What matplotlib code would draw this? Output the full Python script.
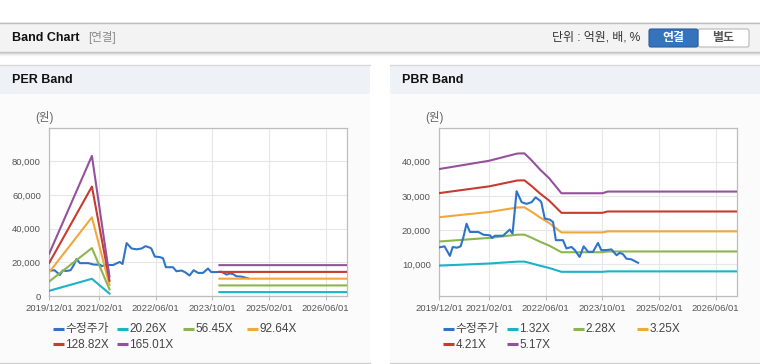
import numpy as np
import pandas as pd
import matplotlib
matplotlib.use("Agg")
import matplotlib.pyplot as plt
from matplotlib.patches import Rectangle, FancyBboxPatch

plt.rcParams['font.family'] = ['Liberation Sans', 'Noto Sans CJK KR']

# --- DATA ---
price_dates = ['2019-12-01', '2020-01-15', '2020-03-01', '2020-03-25', '2020-05-01', '2020-06-01',
               '2020-06-25', '2020-07-22', '2020-08-20', '2020-11-01', '2020-12-13', '2021-02-10',
               '2021-02-25', '2021-03-22', '2021-06-01', '2021-07-28', '2021-08-21', '2021-09-25',
               '2021-11-07', '2021-12-19', '2022-02-01', '2022-03-07', '2022-04-12', '2022-04-25',
               '2022-05-25', '2022-07-07', '2022-08-04', '2022-08-28', '2022-10-28', '2022-11-27',
               '2023-01-10', '2023-02-07', '2023-03-20', '2023-04-24', '2023-06-01', '2023-07-13',
               '2023-08-25', '2023-09-22', '2023-11-06', '2023-12-18', '2024-02-01', '2024-02-28',
               '2024-03-27', '2024-04-25', '2024-06-07', '2024-08-03']
price = [15000, 15300, 12500, 15100, 14900, 15300, 18000, 21900, 19500, 19500, 18700, 18500,
         17700, 18400, 18400, 20200, 19000, 31400, 28200, 27700, 28200, 29600, 28700, 28200,
         23400, 23100, 22400, 17100, 17100, 14700, 15100, 14200, 12200, 15300, 13700, 13700,
         16300, 14200, 14200, 14400, 12700, 13400, 13000, 11700, 11500, 10500]

per_dates = ['2019-12-01', '2020-12-01', '2021-05-01', '2022-08-01', '2023-12-01', '2026-12-01']
per_labels = ['20.26X', '56.45X', '92.64X', '128.82X', '165.01X']
per_20 = [3100, 10210, 1420, np.nan, 2300, 2300]
per_56 = [8640, 28450, 3950, np.nan, 6270, 6270]
per_92 = [14170, 46690, 6480, np.nan, 10280, 10280]
per_128 = [19710, 64930, 9020, np.nan, 14300, 14300]
per_165 = [25250, 83170, 11550, np.nan, 18320, 18320]

pbr_dates = ['2019-12-01', '2021-02-01', '2021-10-01', '2021-12-01', '2022-02-01', '2022-04-15',
             '2022-07-01', '2022-10-15', '2023-10-01', '2023-11-15', '2026-12-01']
pbr_labels = ['1.32X', '2.28X', '3.25X', '4.21X', '5.17X']
pbr_132 = [9670, 10290, 10830, 10840, 10310, 9630, 8990, 7860, 7860, 7990, 7990]
pbr_228 = [16710, 17770, 18700, 18720, 17820, 16630, 15530, 13580, 13580, 13800, 13800]
pbr_325 = [23810, 25330, 26650, 26690, 25400, 23700, 22130, 19360, 19360, 19670, 19670]
pbr_421 = [30850, 32810, 34530, 34570, 32900, 30700, 28670, 25080, 25080, 25480, 25480]
pbr_517 = [37880, 40290, 42400, 42450, 40400, 37700, 35200, 30800, 30800, 31290, 31290]

xtick_dates = ['2019-12-01', '2021-02-01', '2022-06-01', '2023-10-01', '2025-02-01', '2026-06-01']

price_color = '#2f74c8'
band_colors = ['#1bb3c6', '#8cb54e', '#f2a73b', '#c93a2f', '#94529c']

W, H = 760, 364
fig = plt.figure(figsize=(W / 100, H / 100), dpi=100)
fig.patch.set_facecolor('white')

# background / chrome drawn in pixel coordinates
bg = fig.add_axes([0, 0, 1, 1], zorder=0)
bg.set_xlim(0, W)
bg.set_ylim(H, 0)
bg.axis('off')

# header bar
bg.add_patch(Rectangle((0, 22), W, 30, facecolor='#f3f3f3', edgecolor='none'))
bg.plot([0, W], [22.5, 22.5], color='#bdbdbd', lw=1)
bg.plot([0, W], [52, 52], color='#c8c8c8', lw=1)
for i, a in enumerate([0.18, 0.10, 0.05]):
    bg.plot([0, W], [53 + i, 53 + i], color='black', alpha=a * 0.6, lw=1)
bg.text(12, 38, 'Band Chart', fontsize=9, fontweight='bold', color='#111111', va='center')
bg.text(88, 38, '[연결]', fontsize=8.3, color='#8a8a8a', va='center')
bg.text(552, 38, '단위 : 억원, 배, %', fontsize=8.6, color='#333333', va='center')
bg.add_patch(FancyBboxPatch((698, 29), 51, 18, boxstyle='round,pad=0,rounding_size=2',
                            facecolor='white', edgecolor='#b8b8b8', lw=0.8))
bg.add_patch(FancyBboxPatch((649, 29), 49, 18, boxstyle='round,pad=0,rounding_size=2',
                            facecolor='#3574bd', edgecolor='#2a60a0', lw=0.8))
bg.text(673.5, 38.5, '연결', fontsize=8.6, fontweight='bold', color='white', ha='center', va='center')
bg.text(723.5, 38.5, '별도', fontsize=8.6, fontweight='bold', color='#555555', ha='center', va='center')

# panels
for x0, title in [(0, 'PER Band'), (390, 'PBR Band')]:
    bg.add_patch(Rectangle((x0, 94), 370, 269, facecolor='#fbfbfb', edgecolor='none'))
    bg.add_patch(Rectangle((x0, 64.5), 370, 29, facecolor='#eef2f7', edgecolor='none'))
    bg.plot([x0, x0 + 370], [64.5, 64.5], color='#d8d8d8', lw=1)
    bg.plot([x0, x0 + 370], [363, 363], color='#cfcfcf', lw=1)
    bg.text(x0 + 12, 80, title, fontsize=9, fontweight='bold', color='#111111', va='center')
    bg.text(x0 + 35, 118, '(원)', fontsize=8.3, color='#666666', va='center')


def legend_row(x0, y, items):
    xs = [x0 + 52.7, x0 + 117, x0 + 182.7, x0 + 247]
    for (lab, col), xx in zip(items, xs):
        bg.plot([xx, xx + 11], [y, y], color=col, lw=2.2, solid_capstyle='butt')
        bg.text(xx + 12.5, y + 0.5, lab, fontsize=8.5, color='#444444', va='center')


def setup_axes(ax, ylim, yticks):
    ax.set_facecolor('white')
    ax.set_xlim(pd.Timestamp('2019-12-01'), pd.Timestamp('2026-12-01'))
    ax.set_ylim(*ylim)
    xt = pd.to_datetime(xtick_dates)
    ax.set_xticks(xt)
    ax.set_xticklabels([d.strftime('%Y/%m/%d') for d in xt])
    ax.set_yticks(yticks)
    ax.set_yticklabels([f'{v:,}' for v in yticks])
    ax.grid(True, color='#e6e6e6', lw=0.8)
    ax.set_axisbelow(True)
    for s in ax.spines.values():
        s.set_color('#bdbdbd')
        s.set_linewidth(0.9)
    ax.tick_params(axis='x', length=3, color='#bdbdbd', labelsize=6.8, labelcolor='#555555', pad=3)
    ax.tick_params(axis='y', length=0, labelsize=6.8, labelcolor='#555555', pad=6)


ax_w = 297.7 / W
ax_h = 168.5 / H
ax_b = (H - 296) / H

# PER panel
ax1 = fig.add_axes([49.3 / W, ax_b, ax_w, ax_h], zorder=2)
setup_axes(ax1, (0, 100000), [0, 20000, 40000, 60000, 80000])
pd_per = pd.to_datetime(per_dates)
ax1.plot(pd.to_datetime(price_dates), price, color=price_color, lw=1.5, zorder=3)
for vals, col in zip([per_20, per_56, per_92, per_128, per_165], band_colors):
    ax1.plot(pd_per, vals, color=col, lw=1.5, zorder=4)
legend_row(0, 328.5, [('수정주가', price_color)] + list(zip(per_labels[:3], band_colors[:3])))
legend_row(0, 344, list(zip(per_labels[3:], band_colors[3:])))

# PBR panel
ax2 = fig.add_axes([439.3 / W, ax_b, ax_w, ax_h], zorder=2)
setup_axes(ax2, (800, 50000), [10000, 20000, 30000, 40000])
pd_pbr = pd.to_datetime(pbr_dates)
for vals, col in zip([pbr_132, pbr_228, pbr_325, pbr_421, pbr_517], band_colors):
    ax2.plot(pd_pbr, vals, color=col, lw=1.5, zorder=3)
ax2.plot(pd.to_datetime(price_dates), price, color=price_color, lw=1.5, zorder=4)
legend_row(390, 328.5, [('수정주가', price_color)] + list(zip(pbr_labels[:3], band_colors[:3])))
legend_row(390, 344, list(zip(pbr_labels[3:], band_colors[3:])))

fig.savefig('out.png', dpi=100, facecolor=fig.get_facecolor())
